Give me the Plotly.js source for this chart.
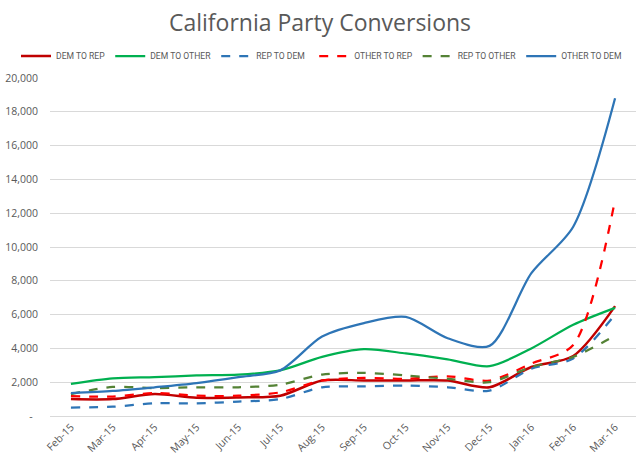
<!DOCTYPE html>
<html>
<head>
<meta charset="utf-8">
<script src="https://cdn.plot.ly/plotly-3.0.1.min.js"></script>
<style>html,body{margin:0;padding:0;background:#fff;}#chart{width:640px;height:467px;}</style>
</head>
<body>
<div id="chart"></div>
<script>
const months = ["Feb-15","Mar-15","Apr-15","May-15","Jun-15","Jul-15","Aug-15","Sep-15","Oct-15","Nov-15","Dec-15","Jan-16","Feb-16","Mar-16"];
const demToRep   = [1000, 1000, 1300, 1080, 1100, 1200, 2100, 2100, 2100, 2100, 1700, 2900, 3550, 6500];
const demToOther = [1900, 2230, 2300, 2400, 2450, 2700, 3500, 3950, 3700, 3350, 2950, 4000, 5400, 6400];
const repToDem   = [500, 550, 750, 750, 850, 1000, 1700, 1750, 1800, 1700, 1500, 2800, 3400, 6000];
const otherToRep = [1180, 1150, 1360, 1200, 1200, 1400, 2100, 2250, 2200, 2350, 2100, 3100, 4200, 12800];
const repToOther = [1300, 1720, 1650, 1700, 1700, 1850, 2450, 2550, 2400, 2200, 2000, 2900, 3500, 4750];
const otherToDem = [1360, 1480, 1700, 1950, 2300, 2700, 4700, 5500, 5860, 4600, 4150, 8450, 11200, 18800];
const yTickVals = [0, 2000, 4000, 6000, 8000, 10000, 12000, 14000, 16000, 18000, 20000];
const yTickText = ["-\u00a0\u00a0", "2,000", "4,000", "6,000", "8,000", "10,000", "12,000", "14,000", "16,000", "18,000", "20,000"];

function tr(name, y, color, dash, width, lg) {
  return {x: months, y: y, name: name, type: 'scatter', mode: 'lines', legend: lg,
    line: {color: color, dash: dash, width: width, shape: 'spline', smoothing: 0.8}};
}
const data = [
  tr('DEM TO REP', demToRep, '#C00000', 'solid', 2.5, 'legend'),
  tr('DEM TO OTHER', demToOther, '#00B050', 'solid', 2.25, 'legend'),
  tr('REP TO DEM', repToDem, '#2E75B6', 'dash', 2.25, 'legend'),
  tr('OTHER TO REP', otherToRep, '#FF0000', 'dash', 2.25, 'legend2'),
  tr('REP TO OTHER', repToOther, '#548235', 'dash', 2.25, 'legend2'),
  tr('OTHER TO DEM', otherToDem, '#2E75B6', 'solid', 2.25, 'legend2')
];
const legendFont = {size: 8.6, color: '#595959', family: 'Roboto, sans-serif'};
const layout = {
  width: 640, height: 467,
  margin: {l: 50, r: 4, t: 78, b: 51},
  paper_bgcolor: '#fff', plot_bgcolor: '#fff',
  font: {family: 'Roboto, Open Sans, sans-serif', color: '#595959', size: 10},
  title: {text: 'California Party Conversions', x: 0.5, xanchor: 'center', y: 0.951, yanchor: 'middle', yref: 'container',
    font: {size: 23, color: '#595959', family: 'Open Sans, sans-serif'}},
  showlegend: true,
  legend: {orientation: 'h', xref: 'container', x: 0.025, xanchor: 'left', yref: 'container', y: 0.88, yanchor: 'middle',
    font: legendFont, traceorder: 'normal', itemwidth: 30, borderwidth: 0, bgcolor: 'rgba(0,0,0,0)'},
  legend2: {orientation: 'h', xref: 'container', x: 0.98, xanchor: 'right', yref: 'container', y: 0.88, yanchor: 'middle',
    font: legendFont, traceorder: 'normal', itemwidth: 30, borderwidth: 0, bgcolor: 'rgba(0,0,0,0)'},
  xaxis: {type: 'category', range: [-0.5, 13.5], tickangle: -45, showgrid: false,
    showline: true, linecolor: '#D9D9D9', linewidth: 1, ticks: '', zeroline: false,
    tickfont: {size: 10.5, color: '#595959', family: 'Open Sans, sans-serif'}, fixedrange: true},
  yaxis: {range: [0, 20000], tickvals: yTickVals, ticktext: yTickText, showgrid: true,
    gridcolor: '#D9D9D9', gridwidth: 1, zeroline: false, showline: false, ticks: '', ticklabelstandoff: 11,
    tickfont: {size: 10.5, color: '#595959', family: 'Open Sans, sans-serif'}, fixedrange: true}
};
Plotly.newPlot('chart', data, layout, {displayModeBar: false, staticPlot: true});
</script>
</body>
</html>
